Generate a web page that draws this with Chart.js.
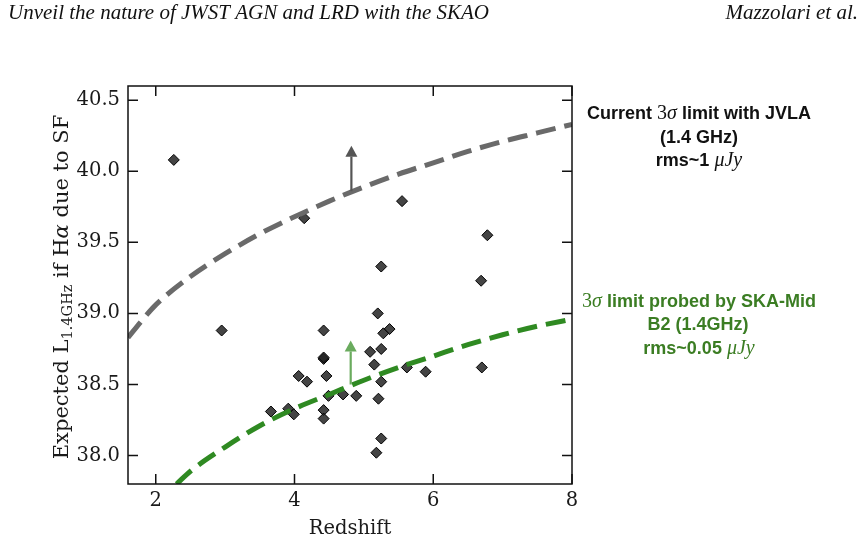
<!DOCTYPE html>
<html>
<head>
<meta charset="utf-8">
<script src="https://cdn.jsdelivr.net/npm/chart.js@4.4.0/dist/chart.umd.min.js"></script>
<style>
  html, body { margin: 0; padding: 0; background: #fff; }
  #wrap { position: relative; width: 866px; height: 544px; }
</style>
</head>
<body>
<div id="wrap"><canvas id="chart" width="866" height="544"></canvas></div>
<script>
// sources: redshift and expected 1.4GHz luminosity (log) if Halpha from SF
const redshift = [2.26, 2.95, 4.14, 5.55, 6.78, 5.25, 6.69, 5.20, 4.42, 5.37,
                  5.28, 4.42, 4.42, 5.09, 5.25, 5.15, 4.06, 4.18, 4.46, 5.62,
                  5.89, 6.70, 5.25, 4.49, 4.70, 4.89, 5.21, 3.66, 3.91, 3.99,
                  4.42, 4.42, 5.25, 5.18];
const lumSF = [40.08, 38.88, 39.67, 39.79, 39.55, 39.33, 39.23, 39.00, 38.88, 38.89,
               38.86, 38.68, 38.69, 38.73, 38.75, 38.64, 38.56, 38.52, 38.56, 38.62,
               38.59, 38.62, 38.52, 38.42, 38.43, 38.42, 38.40, 38.31, 38.33, 38.29,
               38.32, 38.26, 38.12, 38.02];

// 3 sigma limit curves
const jvlaZ = [1.6, 1.8, 2.0, 2.5, 3.0, 3.5, 4.0, 4.5, 5.0, 5.5, 6.0, 6.5, 7.0, 7.5, 8.0];
const jvlaLimit = [38.83, 38.95, 39.06, 39.26, 39.42, 39.56, 39.68, 39.79, 39.89, 39.98, 40.06, 40.14, 40.21, 40.27, 40.33];
const skaZ = [2.3, 2.5, 3.0, 3.5, 4.0, 4.5, 5.0, 5.5, 6.0, 6.5, 7.0, 7.5, 8.0];
const skaLimit = [37.80, 37.89, 38.06, 38.21, 38.33, 38.43, 38.53, 38.62, 38.70, 38.78, 38.85, 38.91, 38.96];

// arrows
const arrowZ = [4.82, 4.81];
const arrowFrom = [39.86, 38.50];
const arrowTo = [40.18, 38.81];
const arrowColors = ['#555555', '#6aab5e'];

const xTickValues = [2, 4, 6, 8];
const yTickValues = [38.0, 38.5, 39.0, 39.5, 40.0, 40.5];

const SERIF = "'DejaVu Serif'";
const SANS_B = "bold 18px 'Liberation Sans'";
const MATH_I = "italic 20px 'Liberation Serif'";
const MATH_R = "20px 'Liberation Serif'";
const GREEN_TXT = '#3b7d23';

function richLine(ctx, parts, cx, baseline) {
    let w = 0;
    parts.forEach(p => { ctx.font = p.font; w += ctx.measureText(p.t).width; });
    let xx = cx - w / 2;
    ctx.textAlign = 'left';
    ctx.textBaseline = 'alphabetic';
    parts.forEach(p => {
        ctx.font = p.font;
        ctx.fillText(p.t, xx, baseline + (p.dy || 0));
        xx += ctx.measureText(p.t).width;
    });
}

function drawArrow(ctx, x, y0, y1, color) {
    const head = 11, half = 6;
    ctx.strokeStyle = color;
    ctx.fillStyle = color;
    ctx.lineWidth = 2.2;
    ctx.beginPath();
    ctx.moveTo(x, y0);
    ctx.lineTo(x, y1 + head);
    ctx.stroke();
    ctx.beginPath();
    ctx.moveTo(x, y1);
    ctx.lineTo(x - half, y1 + head);
    ctx.lineTo(x + half, y1 + head);
    ctx.closePath();
    ctx.fill();
}

const decor = {
    id: 'decor',
    afterDatasetsDraw(chart) {
        const {ctx, chartArea: a, scales: {x, y}} = chart;
        ctx.save();
        arrowZ.forEach((z, i) => {
            drawArrow(ctx, x.getPixelForValue(z), y.getPixelForValue(arrowFrom[i]),
                      y.getPixelForValue(arrowTo[i]), arrowColors[i]);
        });

        // frame with inward ticks on all sides
        ctx.strokeStyle = '#111';
        ctx.lineWidth = 1.5;
        ctx.strokeRect(a.left, a.top, a.right - a.left, a.bottom - a.top);
        const tl = 10;
        ctx.beginPath();
        xTickValues.forEach(v => {
            const px = x.getPixelForValue(v);
            ctx.moveTo(px, a.bottom); ctx.lineTo(px, a.bottom - tl);
            ctx.moveTo(px, a.top); ctx.lineTo(px, a.top + tl);
        });
        yTickValues.forEach(v => {
            const py = y.getPixelForValue(v);
            ctx.moveTo(a.left, py); ctx.lineTo(a.left + tl, py);
            ctx.moveTo(a.right, py); ctx.lineTo(a.right - tl, py);
        });
        ctx.stroke();
        ctx.restore();
    },
    afterDraw(chart) {
        const ctx = chart.ctx;
        ctx.save();

        // page header
        ctx.fillStyle = '#111';
        ctx.font = "italic 21px 'Liberation Serif'";
        ctx.textBaseline = 'alphabetic';
        ctx.textAlign = 'left';
        ctx.fillText('Unveil the nature of JWST AGN and LRD with the SKAO', 8, 19);
        ctx.textAlign = 'right';
        ctx.fillText('Mazzolari et al.', 858, 19);

        // y axis title (rotated, with subscript)
        ctx.save();
        ctx.translate(68, 287);
        ctx.rotate(-Math.PI / 2);
        ctx.fillStyle = '#1a1a1a';
        richLine(ctx, [
            {t: 'Expected L', font: '21px ' + SERIF},
            {t: '1.4GHz', font: '14.5px ' + SERIF, dy: 4},
            {t: ' if H', font: '21px ' + SERIF},
            {t: 'α', font: 'italic 21px ' + SERIF},
            {t: ' due to SF', font: '21px ' + SERIF}
        ], 0, 0);
        ctx.restore();

        // JVLA annotation
        ctx.fillStyle = '#111';
        richLine(ctx, [{t: 'Current ', font: SANS_B}, {t: '3', font: MATH_R},
                       {t: 'σ', font: MATH_I}, {t: ' limit with JVLA', font: SANS_B}], 699, 119);
        richLine(ctx, [{t: '(1.4 GHz)', font: SANS_B}], 699, 142.5);
        richLine(ctx, [{t: 'rms~1 ', font: SANS_B}, {t: 'μJy', font: MATH_I}], 699, 166);

        // SKA annotation
        ctx.fillStyle = GREEN_TXT;
        richLine(ctx, [{t: '3', font: MATH_R}, {t: 'σ', font: MATH_I},
                       {t: ' limit probed by SKA-Mid', font: SANS_B}], 699, 307);
        richLine(ctx, [{t: 'B2 (1.4GHz)', font: SANS_B}], 698, 330);
        richLine(ctx, [{t: 'rms~0.05 ', font: SANS_B}, {t: 'μJy', font: MATH_I}], 699, 354);
        ctx.restore();
    }
};

new Chart('chart', {
    type: 'scatter',
    data: {
        datasets: [{
            type: 'line',
            data: jvlaZ.map((z, i) => ({x: z, y: jvlaLimit[i]})),
            borderColor: '#6a6a6a',
            borderWidth: 5,
            borderDash: [20, 9],
            cubicInterpolationMode: 'monotone',
            pointRadius: 0,
            fill: false,
            clip: 0,
            order: 0
        }, {
            type: 'line',
            data: skaZ.map((z, i) => ({x: z, y: skaLimit[i]})),
            borderColor: '#2f8a22',
            borderWidth: 5,
            borderDash: [20, 9],
            cubicInterpolationMode: 'monotone',
            pointRadius: 0,
            fill: false,
            clip: 0,
            order: 0
        }, {
            data: redshift.map((z, i) => ({x: z, y: lumSF[i]})),
            pointStyle: 'rectRot',
            pointRadius: 5.5,
            backgroundColor: 'rgba(35,35,35,0.85)',
            borderColor: '#000',
            borderWidth: 1,
            order: 1
        }]
    },
    options: {
        responsive: false,
        animation: false,
        events: [],
        layout: {padding: {left: 0, right: 294, top: 86, bottom: 0}},
        plugins: {legend: {display: false}, tooltip: {enabled: false}},
        scales: {
            x: {
                type: 'linear',
                min: 1.6,
                max: 8,
                afterBuildTicks: s => { s.ticks = xTickValues.map(v => ({value: v})); },
                afterFit: s => { s.height = 60; },
                grid: {display: false, drawTicks: false},
                border: {display: false},
                ticks: {font: {family: 'DejaVu Serif', size: 19.5}, color: '#1a1a1a', padding: 5, maxRotation: 0},
                title: {display: true, text: 'Redshift', font: {family: 'DejaVu Serif', size: 19.5},
                        color: '#1a1a1a', padding: {top: 0, bottom: 3}}
            },
            y: {
                min: 37.8,
                max: 40.6,
                afterBuildTicks: s => { s.ticks = yTickValues.map(v => ({value: v})); },
                afterFit: s => { s.width = 128; },
                grid: {display: false, drawTicks: false},
                border: {display: false},
                ticks: {font: {family: 'DejaVu Serif', size: 19.5}, color: '#1a1a1a', padding: 8,
                        callback: v => v.toFixed(1)}
            }
        }
    },
    plugins: [decor]
});
</script>
</body>
</html>
